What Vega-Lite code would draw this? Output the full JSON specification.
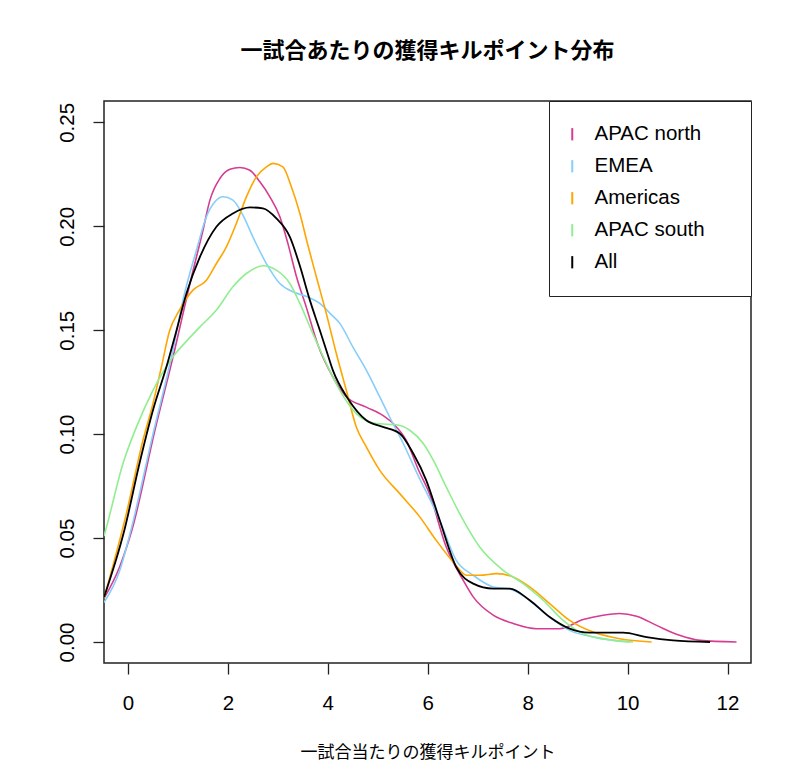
{
  "$schema": "https://vega.github.io/schema/vega-lite/v6.json",
  "autosize": {"type": "none"},
  "width": 647,
  "height": 562,
  "padding": {"left": 104, "top": 101, "right": 49, "bottom": 115},
  "background": "white",
  "title": {"text": "一試合あたりの獲得キルポイント分布", "font": "Noto Sans CJK JP", "fontSize": 22, "fontWeight": "bold", "color": "#000", "anchor": "middle", "baseline": "bottom", "offset": 16},
  "config": {"view": {"stroke": "#222", "strokeWidth": 1.5}, "font": "Liberation Sans"},
  "data": {"values": [
    {"g":"APAC north","x":-0.48,"y":0.021},{"g":"APAC north","x":-0.17,"y":0.036},{"g":"APAC north","x":0.08,"y":0.054},{"g":"APAC north","x":0.54,"y":0.102},{"g":"APAC north","x":0.93,"y":0.140},{"g":"APAC north","x":1.24,"y":0.1725},{"g":"APAC north","x":1.5,"y":0.198},{"g":"APAC north","x":1.64,"y":0.2126},{"g":"APAC north","x":1.84,"y":0.223},{"g":"APAC north","x":2.04,"y":0.2275},{"g":"APAC north","x":2.24,"y":0.2283},{"g":"APAC north","x":2.44,"y":0.227},{"g":"APAC north","x":2.64,"y":0.2214},{"g":"APAC north","x":2.84,"y":0.2142},{"g":"APAC north","x":3.04,"y":0.2046},{"g":"APAC north","x":3.2,"y":0.1918},{"g":"APAC north","x":3.37,"y":0.176},{"g":"APAC north","x":3.57,"y":0.161},{"g":"APAC north","x":3.8,"y":0.143},{"g":"APAC north","x":4.1,"y":0.1276},{"g":"APAC north","x":4.37,"y":0.118},{"g":"APAC north","x":4.77,"y":0.113},{"g":"APAC north","x":5.1,"y":0.109},{"g":"APAC north","x":5.31,"y":0.105},{"g":"APAC north","x":5.57,"y":0.097},{"g":"APAC north","x":5.81,"y":0.083},{"g":"APAC north","x":6.04,"y":0.071},{"g":"APAC north","x":6.37,"y":0.0457},{"g":"APAC north","x":6.71,"y":0.0297},{"g":"APAC north","x":6.91,"y":0.0217},{"g":"APAC north","x":7.31,"y":0.0129},{"g":"APAC north","x":7.71,"y":0.0089},{"g":"APAC north","x":8.18,"y":0.0064},{"g":"APAC north","x":8.64,"y":0.0064},{"g":"APAC north","x":9.11,"y":0.0108},{"g":"APAC north","x":9.51,"y":0.0129},{"g":"APAC north","x":9.84,"y":0.0137},{"g":"APAC north","x":10.18,"y":0.0124},{"g":"APAC north","x":10.58,"y":0.008},{"g":"APAC north","x":11.04,"y":0.0032},{"g":"APAC north","x":11.45,"y":0.0008},{"g":"APAC north","x":12.18,"y":0.0},
    {"g":"EMEA","x":-0.48,"y":0.019},{"g":"EMEA","x":-0.17,"y":0.034},{"g":"EMEA","x":0.05,"y":0.053},{"g":"EMEA","x":0.5,"y":0.1},{"g":"EMEA","x":0.9,"y":0.1404},{"g":"EMEA","x":1.1,"y":0.1644},{"g":"EMEA","x":1.37,"y":0.1885},{"g":"EMEA","x":1.57,"y":0.2046},{"g":"EMEA","x":1.74,"y":0.2118},{"g":"EMEA","x":1.9,"y":0.2142},{"g":"EMEA","x":2.1,"y":0.2126},{"g":"EMEA","x":2.3,"y":0.2054},{"g":"EMEA","x":2.5,"y":0.1949},{"g":"EMEA","x":2.77,"y":0.1821},{"g":"EMEA","x":3.04,"y":0.1725},{"g":"EMEA","x":3.3,"y":0.1685},{"g":"EMEA","x":3.6,"y":0.166},{"g":"EMEA","x":3.84,"y":0.1629},{"g":"EMEA","x":4.05,"y":0.158},{"g":"EMEA","x":4.24,"y":0.1533},{"g":"EMEA","x":4.5,"y":0.142},{"g":"EMEA","x":4.77,"y":0.1308},{"g":"EMEA","x":5.04,"y":0.1179},{"g":"EMEA","x":5.27,"y":0.1067},{"g":"EMEA","x":5.51,"y":0.0955},{"g":"EMEA","x":5.77,"y":0.082},{"g":"EMEA","x":6.24,"y":0.0586},{"g":"EMEA","x":6.57,"y":0.0393},{"g":"EMEA","x":6.91,"y":0.0321},{"g":"EMEA","x":7.31,"y":0.0265},{"g":"EMEA","x":7.64,"y":0.0255},{"g":"EMEA","x":8.04,"y":0.0201},{"g":"EMEA","x":8.44,"y":0.012},{"g":"EMEA","x":8.84,"y":0.0056},{"g":"EMEA","x":9.38,"y":0.0021},{"g":"EMEA","x":10.04,"y":0.0},
    {"g":"Americas","x":-0.48,"y":0.021},{"g":"Americas","x":-0.03,"y":0.062},{"g":"Americas","x":0.3,"y":0.0971},{"g":"Americas","x":0.5,"y":0.1147},{"g":"Americas","x":0.67,"y":0.1324},{"g":"Americas","x":0.83,"y":0.1495},{"g":"Americas","x":1.03,"y":0.1597},{"g":"Americas","x":1.3,"y":0.1693},{"g":"Americas","x":1.57,"y":0.1741},{"g":"Americas","x":1.77,"y":0.1821},{"g":"Americas","x":1.97,"y":0.1901},{"g":"Americas","x":2.17,"y":0.2014},{"g":"Americas","x":2.37,"y":0.2142},{"g":"Americas","x":2.57,"y":0.2238},{"g":"Americas","x":2.77,"y":0.2286},{"g":"Americas","x":2.9,"y":0.2303},{"g":"Americas","x":3.1,"y":0.2286},{"g":"Americas","x":3.27,"y":0.219},{"g":"Americas","x":3.44,"y":0.2062},{"g":"Americas","x":3.6,"y":0.191},{"g":"Americas","x":3.77,"y":0.1757},{"g":"Americas","x":3.97,"y":0.158},{"g":"Americas","x":4.17,"y":0.1388},{"g":"Americas","x":4.37,"y":0.1211},{"g":"Americas","x":4.57,"y":0.1035},{"g":"Americas","x":4.77,"y":0.0939},{"g":"Americas","x":5.04,"y":0.0826},{"g":"Americas","x":5.44,"y":0.0714},{"g":"Americas","x":5.84,"y":0.0602},{"g":"Americas","x":6.17,"y":0.0489},{"g":"Americas","x":6.51,"y":0.0385},{"g":"Americas","x":6.78,"y":0.0321},{"g":"Americas","x":7.04,"y":0.0321},{"g":"Americas","x":7.38,"y":0.0329},{"g":"Americas","x":7.71,"y":0.0313},{"g":"Americas","x":8.04,"y":0.0265},{"g":"Americas","x":8.44,"y":0.0185},{"g":"Americas","x":8.84,"y":0.0104},{"g":"Americas","x":9.31,"y":0.0048},{"g":"Americas","x":9.84,"y":0.0016},{"g":"Americas","x":10.48,"y":0.0},
    {"g":"APAC south","x":-0.48,"y":0.051},{"g":"APAC south","x":-0.43,"y":0.0553},{"g":"APAC south","x":-0.1,"y":0.0859},{"g":"APAC south","x":0.17,"y":0.1035},{"g":"APAC south","x":0.5,"y":0.1211},{"g":"APAC south","x":0.9,"y":0.1372},{"g":"APAC south","x":1.2,"y":0.1455},{"g":"APAC south","x":1.44,"y":0.1516},{"g":"APAC south","x":1.77,"y":0.1597},{"g":"APAC south","x":2.1,"y":0.1709},{"g":"APAC south","x":2.37,"y":0.1773},{"g":"APAC south","x":2.7,"y":0.181},{"g":"APAC south","x":2.97,"y":0.1789},{"g":"APAC south","x":3.24,"y":0.1725},{"g":"APAC south","x":3.44,"y":0.1629},{"g":"APAC south","x":3.7,"y":0.1484},{"g":"APAC south","x":3.97,"y":0.134},{"g":"APAC south","x":4.24,"y":0.1211},{"g":"APAC south","x":4.57,"y":0.1099},{"g":"APAC south","x":4.97,"y":0.1051},{"g":"APAC south","x":5.37,"y":0.1045},{"g":"APAC south","x":5.64,"y":0.1019},{"g":"APAC south","x":5.91,"y":0.0955},{"g":"APAC south","x":6.11,"y":0.0875},{"g":"APAC south","x":6.37,"y":0.0746},{"g":"APAC south","x":6.71,"y":0.0586},{"g":"APAC south","x":7.04,"y":0.0457},{"g":"APAC south","x":7.51,"y":0.0345},{"g":"APAC south","x":7.91,"y":0.0281},{"g":"APAC south","x":8.31,"y":0.0201},{"g":"APAC south","x":8.71,"y":0.0104},{"g":"APAC south","x":9.11,"y":0.004},{"g":"APAC south","x":9.71,"y":0.0008},{"g":"APAC south","x":10.11,"y":0.0},
    {"g":"All","x":-0.48,"y":0.0215},{"g":"All","x":-0.07,"y":0.054},{"g":"All","x":0.23,"y":0.0859},{"g":"All","x":0.5,"y":0.1115},{"g":"All","x":0.77,"y":0.1324},{"g":"All","x":0.95,"y":0.148},{"g":"All","x":1.17,"y":0.1677},{"g":"All","x":1.44,"y":0.1853},{"g":"All","x":1.77,"y":0.1998},{"g":"All","x":2.1,"y":0.2062},{"g":"All","x":2.44,"y":0.2091},{"g":"All","x":2.7,"y":0.2086},{"g":"All","x":2.97,"y":0.2038},{"g":"All","x":3.24,"y":0.1949},{"g":"All","x":3.44,"y":0.181},{"g":"All","x":3.64,"y":0.1645},{"g":"All","x":3.84,"y":0.15},{"g":"All","x":3.97,"y":0.1404},{"g":"All","x":4.1,"y":0.1308},{"g":"All","x":4.4,"y":0.1172},{"g":"All","x":4.77,"y":0.1067},{"g":"All","x":5.1,"y":0.1035},{"g":"All","x":5.44,"y":0.1003},{"g":"All","x":5.71,"y":0.0907},{"g":"All","x":5.97,"y":0.0778},{"g":"All","x":6.24,"y":0.0586},{"g":"All","x":6.57,"y":0.0361},{"g":"All","x":6.91,"y":0.0281},{"g":"All","x":7.31,"y":0.0257},{"g":"All","x":7.64,"y":0.0257},{"g":"All","x":8.04,"y":0.0201},{"g":"All","x":8.44,"y":0.012},{"g":"All","x":8.84,"y":0.0064},{"g":"All","x":9.24,"y":0.0045},{"g":"All","x":9.91,"y":0.0045},{"g":"All","x":10.38,"y":0.0024},{"g":"All","x":10.91,"y":0.0008},{"g":"All","x":11.65,"y":0.0}
  ]},
  "mark": {"type": "line", "interpolate": "monotone", "clip": true},
  "encoding": {
    "x": {"field": "x", "type": "quantitative", "scale": {"domain": [-0.48, 12.47], "nice": false, "zero": false},
      "axis": {"values": [0,2,4,6,8,10,12], "domain": false, "grid": false, "tickSize": 11, "tickColor": "#222", "tickWidth": 1.3, "labelFontSize": 20.5, "labelFont": "Liberation Sans", "labelColor": "#000", "labelPadding": 19, "labelFlush": false,
        "title": "一試合当たりの獲得キルポイント", "titleFont": "Noto Sans CJK JP", "titleFontSize": 17, "titleFontWeight": "normal", "titleColor": "#000", "titlePadding": 30.5}},
    "y": {"field": "y", "type": "quantitative", "scale": {"domain": [-0.0101, 0.2603], "nice": false, "zero": false},
      "axis": {"values": [0,0.05,0.1,0.15,0.2,0.25], "format": ".2f", "domain": false, "grid": false, "tickSize": 11, "tickColor": "#222", "tickWidth": 1.3, "labelFontSize": 20.5, "labelFont": "Liberation Sans", "labelColor": "#000", "labelAngle": 270, "labelAlign": "center", "labelBaseline": "alphabetic", "labelPadding": 20, "labelFlush": false, "title": null}},
    "color": {"field": "g", "type": "nominal", "sort": ["APAC north","EMEA","Americas","APAC south","All"],
      "scale": {"domain": ["APAC north","EMEA","Americas","APAC south","All"], "range": ["#D63C91","#87CEFA","#FFA500","#90EE90","#000000"]},
      "legend": {"title": null, "orient": "top-right", "offset": 0, "fillColor": "white", "strokeColor": "#222", "padding": 23, "cornerRadius": 0,
        "symbolType": "M0,-1L0,1", "symbolSize": 150, "symbolStrokeWidth": 2, "symbolOffset": -10,
        "labelFontSize": 20.5, "labelFont": "Liberation Sans", "labelColor": "#000", "labelOffset": 12, "rowPadding": 11,
        "labelExpr": "datum.label + '\u00a0\u00a0\u00a0\u00a0\u200b'"}},
    "strokeWidth": {"condition": {"test": "datum.g === 'All'", "value": 1.8}, "value": 1.6}
  }
}
